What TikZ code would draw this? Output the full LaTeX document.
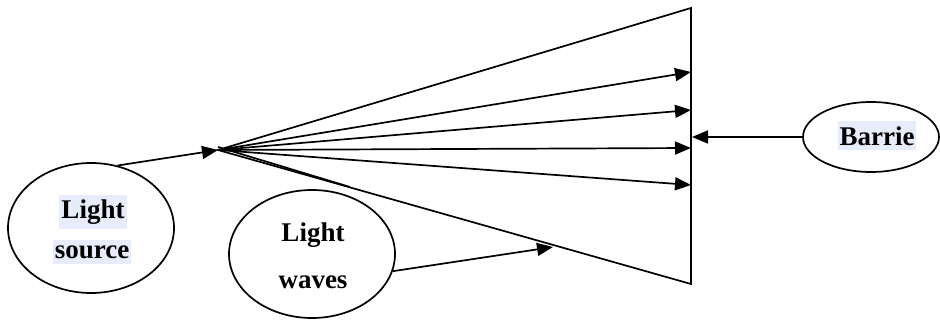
\documentclass[tikz,border=0pt]{standalone}
\usepackage{fontspec}
\setmainfont{Liberation Serif}
\usetikzlibrary{arrows.meta,shapes.geometric}
\definecolor{hilite}{RGB}{230,236,250}
\begin{document}
\begin{tikzpicture}[x=1pt,y=-1pt,
  line width=1.7pt,
  arr/.style={-{Triangle[length=16pt,width=13pt]}},
  oval/.style={draw,ellipse,inner sep=0pt},
  word/.style={font=\fontsize{27}{31}\selectfont\bfseries,inner sep=2pt},
  mark word/.style={word,fill=hilite,inner ysep=5pt}]
\useasboundingbox (0,0) rectangle (940,320);

% the beam: apex, top and bottom corners on the barrier line
\coordinate (apex) at (218,150);
\coordinate (top) at (691,8);
\coordinate (bot) at (691,284);
\draw[line join=miter] (apex) -- (top) -- (bot) -- cycle;

% rays arriving at the barrier
\coordinate (r1) at (691,72);
\coordinate (r2) at (691,110);
\coordinate (r3) at (691,148);
\coordinate (r4) at (691,185);
\foreach \r in {r1,r2,r3,r4} \draw[arr] (apex) -- (\r);
\coordinate (apex2) at (218,147);
\coordinate (edge) at (350,187);
\draw (apex2) -- (edge);

% light source
\node[oval,minimum width=166pt,minimum height=130pt] (ls) at (91,228) {};
\node[mark word] (ls1) at (93,212) {Light};
\node[mark word] (ls2) at (92,252) {source};
\draw[arr] (ls.67) -- (apex);

% light waves
\node[oval,minimum width=166pt,minimum height=128pt] (lw) at (312,254) {};
\node[word] (lw1) at (313,235) {Light};
\node[word] (lw2) at (313,282) {waves};
\coordinate (wtip) at (553,247);
\draw[arr] (lw.-12) -- (wtip);

% barrier
\node[oval,minimum width=136pt,minimum height=70pt] (br) at (871,137) {};
\node[mark word] (br1) at (877,136) {Barrie};
\coordinate (bhit) at (692,137);
\draw[arr] (br.west) -- (bhit);
\end{tikzpicture}
\end{document}
